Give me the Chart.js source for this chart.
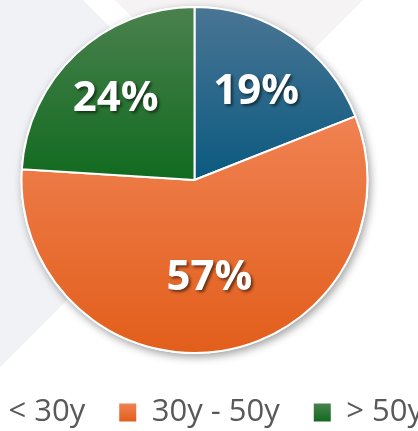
<!DOCTYPE html>
<html lang="en">
<head>
<meta charset="UTF-8">
<meta name="viewport" content="width=device-width, initial-scale=1.0">
<title>Age groups</title>
<script src="https://cdn.jsdelivr.net/npm/chart.js"></script>
<style>
    html, body {
        margin: 0;
        padding: 0;
    }
    body {
        width: 418px;
        height: 431px;
        overflow: hidden;
        position: relative;
        background: #fff;
    }
    /* faint diagonal shapes behind the pie */
    .bg-left {
        position: absolute;
        left: 0; top: 0;
        width: 418px; height: 431px;
        background: #f1f2f6;
        clip-path: polygon(0 0, 83px 0, 225px 142px, 0 367px);
    }
    .bg-top {
        position: absolute;
        left: 0; top: 0;
        width: 418px; height: 431px;
        background: #f5f3f4;
        clip-path: polygon(115px 0, 363px 0, 239px 124px);
    }
    /* canvas is wider than the window so the legend runs off both edges */
    .chart-box {
        position: absolute;
        left: -86px;
        top: -3px;
    }
</style>
</head>
<body>
<div class="bg-left"></div>
<div class="bg-top"></div>
<div class="chart-box">
    <canvas id="pie" width="561" height="441"></canvas>
</div>

<script>
// data
const ageLabels = ['< 30y', '30y - 50y', '> 50y'];
const agePercent = [19, 57, 24];

// light (top) -> dark (bottom) for each slice
const sliceTop = ['#4a7594', '#f08252', '#4a814e'];
const sliceBottom = ['#0b5a80', '#e25e1b', '#116a1f'];

// how far out each label sits, as a share of the radius
const labelDist = [0.634, 0.555, 0.665];

const LEGEND_FONT = 31;
const BOX_W = 17, BOX_H = 18;
const LEGEND_SHIFT = 5;

function vGrad(ctx, y0, y1, i) {
    const g = ctx.createLinearGradient(0, y0, 0, y1);
    g.addColorStop(0, sliceTop[i]);
    g.addColorStop(1, sliceBottom[i]);
    return g;
}

// shadow disc under the pie + per slice gradient + labels
const pieStyle = {
    id: 'pieStyle',
    afterLayout(chart) {
        // legend sits a little right of the pie centre
        chart.legend.left += LEGEND_SHIFT;
        chart.legend.right += LEGEND_SHIFT;
    },
    beforeDatasetsDraw(chart) {
        const ctx = chart.ctx;
        const arcs = chart.getDatasetMeta(0).data;
        if (!arcs.length) return;
        const a0 = arcs[0];

        ctx.save();
        ctx.shadowColor = 'rgba(0,0,0,0.38)';
        ctx.shadowBlur = 8;
        ctx.shadowOffsetX = 2;
        ctx.shadowOffsetY = 3;
        ctx.fillStyle = '#fff';
        ctx.beginPath();
        ctx.arc(a0.x, a0.y, a0.outerRadius + 1, 0, Math.PI * 2);
        ctx.fill();
        ctx.restore();

        arcs.forEach((arc, i) => {
            let ymin = arc.y, ymax = arc.y;
            for (let k = 0; k <= 40; k++) {
                const a = arc.startAngle + (arc.endAngle - arc.startAngle) * k / 40;
                const y = arc.y + Math.sin(a) * arc.outerRadius;
                ymin = Math.min(ymin, y);
                ymax = Math.max(ymax, y);
            }
            arc.options.backgroundColor = vGrad(ctx, ymin, ymax, i);
        });
    },
    afterDatasetsDraw(chart) {
        const ctx = chart.ctx;
        const arcs = chart.getDatasetMeta(0).data;
        const size = 42;
        ctx.save();
        ctx.font = 'bold ' + size + 'px "Open Sans"';
        ctx.textAlign = 'center';
        ctx.textBaseline = 'alphabetic';
        ctx.fillStyle = '#fff';
        ctx.shadowColor = 'rgba(0,0,0,0.55)';
        ctx.shadowBlur = 3;
        ctx.shadowOffsetX = 2;
        ctx.shadowOffsetY = 2;
        arcs.forEach((arc, i) => {
            const mid = (arc.startAngle + arc.endAngle) / 2;
            const r = arc.outerRadius * labelDist[i];
            const x = arc.x + Math.cos(mid) * r;
            const y = arc.y + Math.sin(mid) * r;
            ctx.fillText(agePercent[i] + '%', x, y + size * 0.357);
        });
        ctx.restore();
    }
};

const ctx = document.getElementById('pie').getContext('2d');
const pieChart = new Chart(ctx, {
    type: 'pie',
    data: {
        labels: ageLabels,
        datasets: [{
            data: agePercent,
            backgroundColor: sliceBottom,
            borderColor: '#fff',
            borderWidth: 2
        }]
    },
    options: {
        responsive: false,
        animation: false,
        devicePixelRatio: 1,
        radius: 173,
        layout: { padding: 0 },
        plugins: {
            legend: {
                position: 'bottom',
                labels: {
                    font: { family: 'Open Sans', size: LEGEND_FONT },
                    color: '#595959',
                    boxWidth: BOX_W,
                    boxHeight: BOX_H,
                    padding: 34,
                    generateLabels(chart) {
                        // box sits centred on the legend text line
                        const mid = chart.height - 10 - LEGEND_FONT / 2;
                        return ageLabels.map((lab, i) => ({
                            text: lab,
                            fillStyle: vGrad(chart.ctx, mid - BOX_H / 2, mid + BOX_H / 2, i),
                            strokeStyle: 'rgba(0,0,0,0)',
                            lineWidth: 0,
                            fontColor: '#595959',
                            hidden: false,
                            index: i
                        }));
                    }
                }
            },
            tooltip: { enabled: false }
        }
    },
    plugins: [pieStyle]
});
</script>
</body>
</html>
